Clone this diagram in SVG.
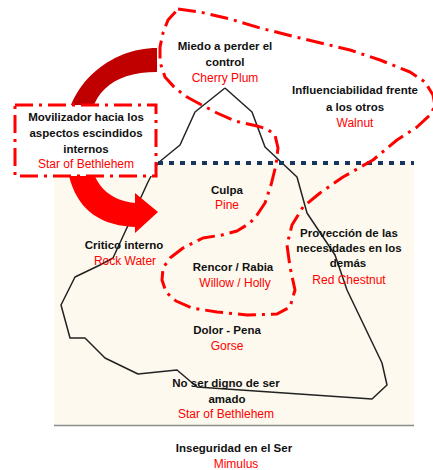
<svg xmlns="http://www.w3.org/2000/svg" width="433" height="470" viewBox="0 0 433 470">
<defs>
<style>
.b{font-family:"Liberation Sans",Arial,sans-serif;font-weight:bold;font-size:11.5px;fill:#111;text-anchor:middle}
.r{font-family:"Liberation Sans",Arial,sans-serif;font-size:12px;fill:#FF0000;text-anchor:middle}
.dd{fill:none;stroke:#FF0000;stroke-width:3;stroke-dasharray:18 6 3 6}
</style>
<linearGradient id="ag" gradientUnits="userSpaceOnUse" x1="0" y1="48" x2="0" y2="233">
<stop offset="0" stop-color="#C00000"/>
<stop offset="0.35" stop-color="#C00000"/>
<stop offset="0.65" stop-color="#FF0000"/>
<stop offset="1" stop-color="#FF0000"/>
</linearGradient>
</defs>
<rect x="54" y="163" width="360" height="262" fill="#FDF9EE"/>
<line x1="54" y1="425.5" x2="414" y2="425.5" stroke="#8C8C8C" stroke-width="1.5"/>
<g id="connectors">
<polyline id="iceberg" fill="none" stroke="#222" stroke-width="1.5" stroke-linejoin="round" points="225,88 252,112 265,147 297,177 307,213 335,255 347,290 382,363 387,385 372,399 197,387 177,370 138,374 105,358 85,338 70,338 61,305 75,277 100,265 113,258 148,182 158,163 180,145 195,112 225,88"/>
<line id="waterline" x1="158" y1="163" x2="414" y2="163" stroke="#17375E" stroke-width="4" stroke-dasharray="5 6"/>
<path id="region" class="dd" stroke-linejoin="round" d="M178,9 L200,12 L230,19 L260,28 L300,38 L350,50 L380,60 L410,72 L425,82 L433,95 L435,106 L430,115 L417,127 L397,140 L373,160 L343,177 L320,193 L303,207 L292,225 L287,245 L290,267 L295,290 L290,307 L277,314 L247,315 L217,312 L192,308 L176,301 L166,292 L162,280 L163,268 L170,258 L183,248 L203,238 L222,235 L237,231 L250,223 L257,215 L265,203 L271,185 L276,165 L278,148 L275,135 L267,129 L257,126 L235,121 L217,113 L198,103 L187,97 L175,88 L165,77 L160,62 L160,47 L163,33 L168,20 Z"/>
<path id="arrow" fill="url(#ag)" d="M157,48 C110,48 66,85 65,135 C64,200 90,225 135,227 L135,233 L158,212 L135,193 L135,203 C105,200 88,180 88,138 C88,95 110,72 157,72 Z"/>
</g>
<g id="movilizador">
<rect x="15" y="105" width="141" height="71" fill="#fff" stroke="#FF0000" stroke-width="3" stroke-dasharray="18 6 3 6"/>
<text class="b" x="86" y="121">Movilizador hacia los</text>
<text class="b" x="86" y="137">aspectos escindidos</text>
<text class="b" x="86" y="153">internos</text>
<text class="r" x="86" y="168">Star of Bethlehem</text>
</g>
<g id="miedo">
<text class="b" x="225" y="50">Miedo a perder el</text>
<text class="b" x="225" y="66">control</text>
<text class="r" x="225" y="82">Cherry Plum</text>
</g>
<g id="influenciabilidad">
<text class="b" x="355" y="94">Influenciabilidad frente</text>
<text class="b" x="355" y="111">a los otros</text>
<text class="r" x="355" y="127">Walnut</text>
</g>
<g id="culpa">
<text class="b" x="227" y="194">Culpa</text>
<text class="r" x="227" y="209">Pine</text>
</g>
<g id="critico">
<text class="b" x="124" y="249">Critico interno</text>
<text class="r" x="125" y="265">Rock Water</text>
</g>
<g id="rencor">
<text class="b" x="233" y="271">Rencor / Rabia</text>
<text class="r" x="235" y="287">Willow / Holly</text>
</g>
<g id="proveccion">
<text class="b" x="349" y="237">Provección de las</text>
<text class="b" x="349" y="252">necesidades en los</text>
<text class="b" x="348" y="267">demás</text>
<text class="r" x="349" y="284">Red Chestnut</text>
</g>
<g id="dolor">
<text class="b" x="227" y="334">Dolor - Pena</text>
<text class="r" x="227" y="350">Gorse</text>
</g>
<g id="noser">
<text class="b" x="226" y="387">No ser digno de ser</text>
<text class="b" x="227" y="403">amado</text>
<text class="r" x="226" y="418">Star of Bethlehem</text>
</g>
<g id="inseguridad">
<text class="b" x="234" y="452">Inseguridad en el Ser</text>
<text class="r" x="236" y="468">Mimulus</text>
</g>
</svg>
